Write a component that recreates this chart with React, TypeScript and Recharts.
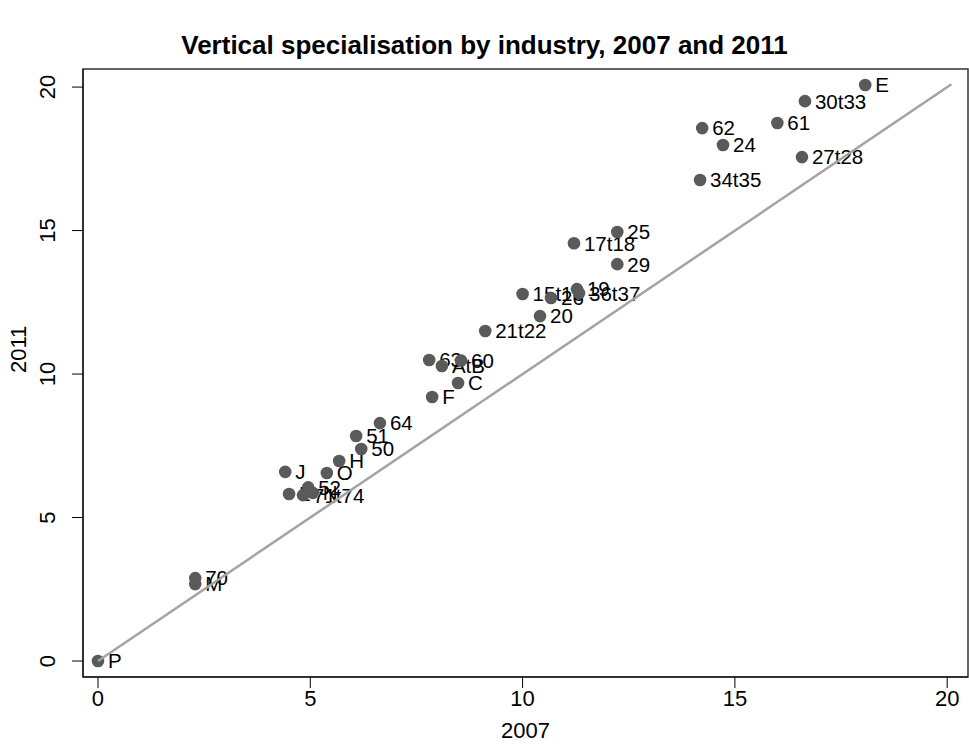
import { ScatterChart, Scatter, XAxis, YAxis, ReferenceArea } from 'recharts';

const labels = [
  'P', '70', 'M', 'J', 'L', '71t74', '52', 'N', 'O', 'H', '51', '50', '64',
  'F', 'C', '63', 'AtB', '60', '21t22', '20', '15t16', '26', '19', '36t37',
  '17t18', '25', '29', '34t35', '62', '24', '61', '30t33', '27t28', 'E',
];
const x2007 = [
  0, 2.29, 2.29, 4.41, 4.5, 4.83, 4.95, 5.06, 5.39, 5.68, 6.08, 6.2, 6.64,
  7.87, 8.48, 7.8, 8.1, 8.55, 9.12, 10.41, 10.0, 10.67, 11.28, 11.33,
  11.21, 12.23, 12.23, 14.18, 14.23, 14.72, 16.0, 16.65, 16.58, 18.07,
];
const y2011 = [
  0, 2.89, 2.68, 6.59, 5.82, 5.78, 6.05, 5.86, 6.55, 6.97, 7.84, 7.39, 8.29,
  9.2, 9.69, 10.49, 10.28, 10.47, 11.5, 12.02, 12.79, 12.65, 12.96, 12.82,
  14.56, 14.95, 13.83, 16.76, 18.57, 17.98, 18.75, 19.51, 17.56, 20.07,
];
const diagonal = [0, 20.1];
const ticks = [0, 5, 10, 15, 20];

const points = labels.map((label, i) => ({ label, x: x2007[i], y: y2011[i] }));
const diagData = diagonal.map((v) => ({ x: v, y: v }));

const FONT = '"Liberation Sans", Arial, sans-serif';
const X_DOMAIN: [number, number] = [-0.353, 20.49];
const Y_DOMAIN: [number, number] = [-0.557, 20.63];

function Dot(props: any) {
  const { cx, cy, payload } = props;
  return (
    <g>
      <circle cx={cx} cy={cy} r={6.3} fill="#5a5a5a" />
      <text x={cx + 10} y={cy} dy="0.36em" fontSize={20.5} fontFamily={FONT} fill="#000">
        {payload.label}
      </text>
    </g>
  );
}

function YTick(props: any) {
  const { x, y, payload } = props;
  const tx = x - 15;
  return (
    <text
      x={tx}
      y={y}
      transform={`rotate(-90 ${tx} ${y})`}
      textAnchor="middle"
      fontSize={22}
      fontFamily={FONT}
      fill="#000"
    >
      {payload.value}
    </text>
  );
}

export default function App() {
  return (
    <div style={{ position: 'absolute', left: 0, top: 0, width: 969, height: 746, background: '#fff' }}>
      <div
        style={{
          position: 'absolute',
          top: 30,
          width: 969,
          textAlign: 'center',
          fontFamily: FONT,
          fontWeight: 'bold',
          fontSize: 26,
        }}
      >
        Vertical specialisation by industry, 2007 and 2011
      </div>
      <ScatterChart width={969} height={746} margin={{ top: 69, right: 1, left: 0, bottom: 0 }}>
        <XAxis
          type="number"
          dataKey="x"
          domain={X_DOMAIN}
          ticks={ticks}
          allowDataOverflow
          height={69}
          stroke="#000"
          tickSize={11}
          tick={{ fontSize: 22, fontFamily: FONT, fill: '#000' }}
          label={{ value: '2007', position: 'insideBottom', offset: 8, fontSize: 22, fontFamily: FONT, fill: '#000' }}
        />
        <YAxis
          type="number"
          dataKey="y"
          domain={Y_DOMAIN}
          ticks={ticks}
          allowDataOverflow
          width={83}
          stroke="#000"
          tickSize={11}
          tick={<YTick />}
          label={{ value: '2011', angle: -90, position: 'insideLeft', offset: 18, fontSize: 22, fontFamily: FONT, fill: '#000' }}
        />
        <ReferenceArea
          x1={X_DOMAIN[0]}
          x2={X_DOMAIN[1]}
          y1={Y_DOMAIN[0]}
          y2={Y_DOMAIN[1]}
          fill="none"
          stroke="#333"
          strokeWidth={1.5}
        />
        <Scatter data={points} shape={<Dot />} isAnimationActive={false} />
        <Scatter
          data={diagData}
          line={{ stroke: '#a3a3a3', strokeWidth: 2.5 }}
          shape={() => <g />}
          isAnimationActive={false}
        />
      </ScatterChart>
    </div>
  );
}
